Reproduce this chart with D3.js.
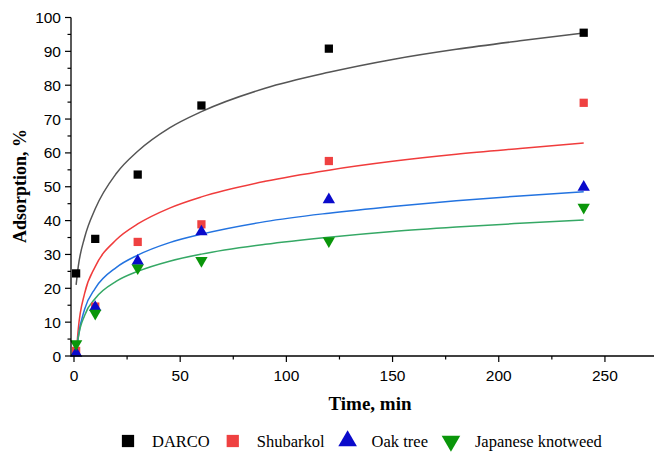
<!DOCTYPE html>
<html>
<head>
<meta charset="utf-8">
<script src="https://cdn.jsdelivr.net/npm/d3@7/dist/d3.min.js"></script>
<style>
  body { margin: 0; background: #fff; }
  svg { display: block; }
</style>
</head>
<body>
<div id="chart"></div>
<script>
// measured points
var times = [1, 10, 30, 60, 120, 240]
var darco = [24.4, 34.6, 53.6, 74.0, 90.8, 95.5]
var shubarkol = [1.5, 14.6, 33.7, 38.9, 57.6, 74.8]
var oakTree = [0.8, 14.4, 28.0, 36.7, 46.2, 49.9]
var knotweed = [3.6, 12.6, 26.0, 28.2, 34.0, 43.9]

// fitted curves
var fitTimes = [1, 2, 5, 10, 20, 30, 45, 60, 90, 120, 150, 180, 210, 240]
var darcoFit = [21.0, 26.4, 35.0, 43.5, 54.0, 60.5, 67.4, 72.2, 79.1, 83.8, 87.6, 90.6, 93.1, 95.4]
var shubarkolFit = [0.0, 7.9, 18.5, 26.4, 34.4, 39.0, 43.7, 47.0, 51.6, 54.9, 57.5, 59.6, 61.3, 62.9]
var oakTreeFit = [0.0, 5.6, 13.8, 20.0, 26.2, 29.8, 33.5, 36.0, 39.7, 42.2, 44.2, 45.9, 47.3, 48.5]
var knotweedFit = [0.2, 5.3, 12.0, 17.0, 22.1, 25.0, 28.0, 30.1, 33.0, 35.1, 36.8, 38.1, 39.2, 40.2]

var xTicks = [0, 50, 100, 150, 200, 250]
var yTicks = [0, 10, 20, 30, 40, 50, 60, 70, 80, 90, 100]

var series = [
    { name: 'DARCO', values: darco, fit: darcoFit, color: '#000000', line: '#555555', symbol: d3.symbolSquare, size: 68, flip: false },
    { name: 'Shubarkol', values: shubarkol, fit: shubarkolFit, color: '#ef4141', line: '#f03c3c', symbol: d3.symbolSquare, size: 68, flip: false },
    { name: 'Oak tree', values: oakTree, fit: oakTreeFit, color: '#0a0acb', line: '#2373e0', symbol: d3.symbolTriangle, size: 66, flip: false },
    { name: 'Japanese knotweed', values: knotweed, fit: knotweedFit, color: '#0a960a', line: '#35a865', symbol: d3.symbolTriangle, size: 66, flip: true }
]

var width = 654, height = 459

var x = d3.scaleLinear().domain([-1.41, 273.1]).range([71, 654])
var y = d3.scaleLinear().domain([0, 100]).range([356, 17.5])

var svg = d3.select('#chart').append('svg')
    .attr('width', width)
    .attr('height', height)

// curves
var line = d3.line()
    .x((d, i) => x(fitTimes[i]))
    .y(d => y(d))
    .curve(d3.curveMonotoneX)

series.forEach(function (s) {
    svg.append('path')
        .attr('d', line(s.fit))
        .attr('fill', 'none')
        .attr('stroke', s.line)
        .attr('stroke-width', 1.5)
})

// markers
series.forEach(function (s) {
    svg.append('g').selectAll('path')
        .data(s.values)
        .join('path')
        .attr('d', d3.symbol().type(s.symbol).size(s.size))
        .attr('transform', (d, i) => 'translate(' + x(times[i]) + ',' + y(d) + ')' + (s.flip ? ' rotate(180)' : ''))
        .attr('fill', s.color)
})

// axes
var xAxis = svg.append('g').attr('transform', 'translate(0,' + y(0) + ')')
xAxis.append('line').attr('x1', 71).attr('x2', 654).attr('stroke', '#000').attr('stroke-width', 1.3)
xAxis.selectAll('.minor').data(d3.range(25, 275, 50)).join('line')
    .attr('x1', d => x(d)).attr('x2', d => x(d)).attr('y1', 0).attr('y2', 3.5)
    .attr('stroke', '#000').attr('stroke-width', 1.2)
xAxis.selectAll('.major').data(xTicks).join('line')
    .attr('x1', d => x(d)).attr('x2', d => x(d)).attr('y1', 0).attr('y2', 6)
    .attr('stroke', '#000').attr('stroke-width', 1.2)
xAxis.selectAll('text').data(xTicks).join('text')
    .attr('x', d => x(d)).attr('y', 24.5)
    .attr('text-anchor', 'middle')
    .attr('font-family', '"Liberation Sans", Arial, sans-serif')
    .attr('font-size', 15.5)
    .text(d => d)

var yAxis = svg.append('g')
yAxis.append('line').attr('x1', 71).attr('x2', 71).attr('y1', y(0) + 0.6).attr('y2', y(100))
    .attr('stroke', '#000').attr('stroke-width', 1.3)
yAxis.selectAll('.minor').data(d3.range(5, 100, 10)).join('line')
    .attr('x1', 71).attr('x2', 67.5).attr('y1', d => y(d)).attr('y2', d => y(d))
    .attr('stroke', '#000').attr('stroke-width', 1.2)
yAxis.selectAll('.major').data(yTicks).join('line')
    .attr('x1', 71).attr('x2', 65).attr('y1', d => y(d)).attr('y2', d => y(d))
    .attr('stroke', '#000').attr('stroke-width', 1.2)
yAxis.selectAll('text').data(yTicks).join('text')
    .attr('x', 61).attr('y', d => y(d) + 5.5)
    .attr('text-anchor', 'end')
    .attr('font-family', '"Liberation Sans", Arial, sans-serif')
    .attr('font-size', 15.5)
    .text(d => d)

// titles
svg.append('text')
    .attr('transform', 'translate(26,186) rotate(-90)')
    .attr('text-anchor', 'middle')
    .attr('font-family', '"Liberation Serif", "Times New Roman", serif')
    .attr('font-weight', 'bold')
    .attr('font-size', 18)
    .text('Adsorption, %')

svg.append('text')
    .attr('x', 370).attr('y', 410)
    .attr('text-anchor', 'middle')
    .attr('font-family', '"Liberation Serif", "Times New Roman", serif')
    .attr('font-weight', 'bold')
    .attr('font-size', 19)
    .text('Time, min')

// legend
var legend = svg.append('g').attr('transform', 'translate(0,441)')
var cursor = 128
series.forEach(function (s) {
    var item = legend.append('g')
    item.append('path')
        .attr('d', d3.symbol().type(s.symbol).size(150))
        .attr('transform', 'translate(' + cursor + ',0)' + (s.flip ? ' rotate(180)' : ''))
        .attr('fill', s.color)
    var label = item.append('text')
        .attr('x', cursor + 24).attr('y', 5.5)
        .attr('font-family', '"Liberation Serif", "Times New Roman", serif')
        .attr('font-size', 16.5)
        .text(s.name)
    cursor += 24 + label.node().getComputedTextLength() + 23
})
</script>
</body>
</html>
